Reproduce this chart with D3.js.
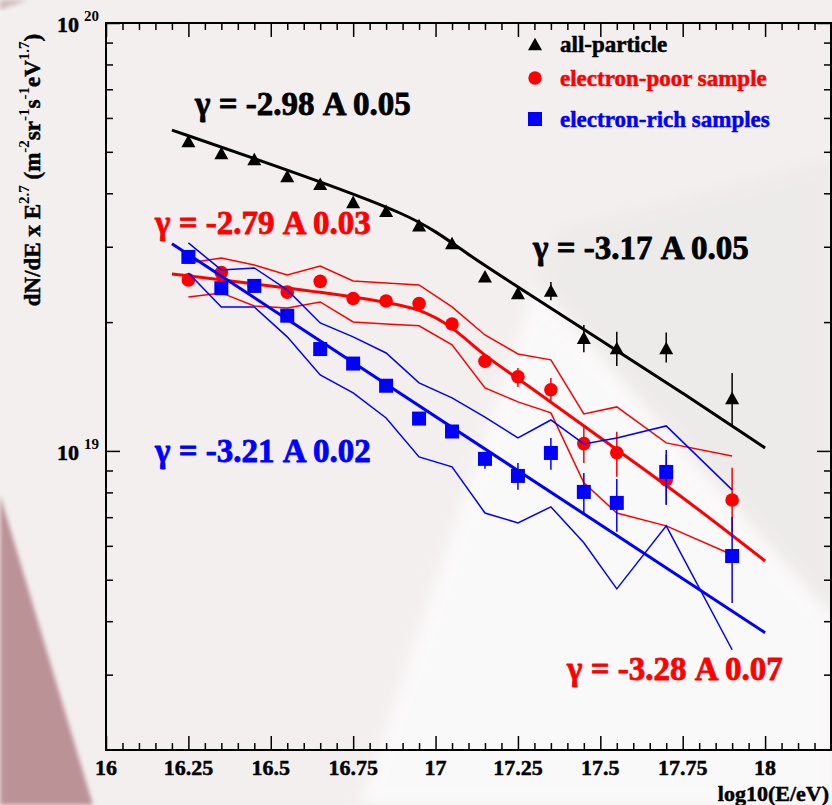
<!DOCTYPE html>
<html lang="en">
<head>
<meta charset="UTF-8">
<title>All-particle, electron-poor and electron-rich spectra</title>
<script src="https://d3js.org/d3.v7.min.js"></script>
<style>
  html, body { margin: 0; padding: 0; background: #f3efef; }
  svg { display: block; }
  text { font-family: "Liberation Serif", "Times New Roman", serif; font-weight: bold; stroke-width: 0.5; stroke-linejoin: round; }
</style>
</head>
<body>
<div id="chart"></div>
<script>
// log10(E/eV) of the bins
const energy = [16.25, 16.35, 16.45, 16.55, 16.65, 16.75, 16.85, 16.95, 17.05, 17.15, 17.25, 17.35, 17.45, 17.55, 17.7, 17.9];

// dN/dE x E^2.7, in units of 1e19 m^-2 sr^-1 s^-1 eV^1.7
const allParticle   = [5.30, 4.97, 4.81, 4.39, 4.21, 3.82, 3.64, 3.37, 3.06, 2.56, 2.34, 2.37, 1.84, 1.74, 1.74, 1.33];
const allParticleLo = [null, null, null, null, null, null, null, null, null, null, null, 2.25, 1.70, 1.58, 1.61, 1.14];
const allParticleHi = [null, null, null, null, null, null, null, null, null, null, null, 2.48, 1.97, 1.90, 1.89, 1.52];

const electronPoor   = [2.51, 2.61, 2.43, 2.35, 2.49, 2.27, 2.24, 2.21, 1.98, 1.62, 1.49, 1.39, 1.04, 0.99, 0.856, 0.768];
const electronPoorLo = [null, null, null, null, null, null, null, null, null, 1.563, 1.411, 1.294, 0.937, 0.870, 0.748, 0.647];
const electronPoorHi = [null, null, null, null, null, null, null, null, null, 1.676, 1.563, 1.481, 1.138, 1.108, 0.979, 0.913];
const electronPoorBandHi = [2.750, 2.824, 2.720, 2.578, 2.705, 2.496, 2.469, 2.443, 2.170, 1.866, 1.685, 1.632, 1.220, 1.267, 1.044, 0.973];
const electronPoorBandLo = [2.290, 2.340, 2.182, 2.159, 2.229, 2.002, 1.980, 1.960, 1.769, 1.404, 1.302, 1.227, 0.842, 0.716, 0.668, 0.572];

const electronRich   = [2.84, 2.40, 2.43, 2.07, 1.73, 1.60, 1.42, 1.19, 1.11, 0.958, 0.874, 0.989, 0.802, 0.756, 0.893, 0.568];
const electronRichLo = [null, null, null, null, null, null, null, null, 1.072, 0.908, 0.811, 0.903, 0.716, 0.647, 0.748, 0.441];
const electronRichHi = [null, null, null, null, null, null, null, null, 1.138, 0.989, 0.937, 1.072, 0.888, 0.860, 1.005, 0.701];
const electronRichBandHi = [3.062, 2.648, 2.677, 2.378, 1.991, 1.847, 1.694, 1.442, 1.330, 1.200, 1.072, 1.181, 1.038, 1.072, 1.144, 0.811];
const electronRichBandLo = [2.606, 2.170, 2.170, 1.847, 1.505, 1.366, 1.194, 0.968, 0.918, 0.716, 0.679, 0.740, 0.610, 0.476, 0.668, 0.343];

// fitted power laws
const fitAllE  = [16.2, 16.5, 16.75, 16.9, 17.0, 17.1, 17.25, 17.5, 17.75, 18.0];
const fitAllV  = [5.62, 4.68, 3.99, 3.59, 3.27, 2.87, 2.416, 1.817, 1.366, 1.016];
const fitPoorE = [16.2, 16.45, 16.65, 16.85, 16.95, 17.05, 17.15, 17.25, 17.5, 17.75, 18.0];
const fitPoorV = [2.592, 2.456, 2.352, 2.229, 2.15, 1.96, 1.66, 1.481, 1.072, 0.781, 0.553];
const fitRichE = [16.2, 18.0];
const fitRichV = [3.05, 0.376];

const xTicks = [16, 16.25, 16.5, 16.75, 17, 17.25, 17.5, 17.75, 18];
const xTickLabels = ["16", "16.25", "16.5", "16.75", "17", "17.25", "17.5", "17.75", "18"];
const yTicks = [1, 10];
const yTickExp = ["19", "20"];

const legendLabels = ["all-particle", "electron-poor sample", "electron-rich samples"];
const slopeLabels = ["γ = -2.98 A 0.05", "γ = -3.17 A 0.05", "γ = -2.79 A 0.03", "γ = -3.21 A 0.02", "γ = -3.28 A 0.07"];

const W = 832, H = 805;
const pLeft = 106, pRight = 831, pTop = 23, pBottom = 750;

const svg = d3.select("#chart").append("svg")
    .attr("width", W)
    .attr("height", H);

// background decoration
const defs = svg.append("defs");
defs.append("filter").attr("id", "soft")
    .append("feGaussianBlur").attr("stdDeviation", 2);
defs.append("filter").attr("id", "softer")
    .attr("x", "-20%").attr("y", "-20%").attr("width", "140%").attr("height", "140%")
    .append("feGaussianBlur").attr("stdDeviation", 7);
svg.append("rect").attr("width", W).attr("height", H).attr("fill", "#f3efef");
svg.append("path")
    .attr("d", "M560,230 L832,160 L832,617 L536,286 Z")
    .attr("fill", "#e9e6e6").attr("opacity", 0.5)
    .attr("filter", "url(#softer)");
svg.append("path")
    .attr("d", "M536,286 L832,617 L832,805 L360,805 Z")
    .attr("fill", "#ffffff").attr("opacity", 0.65)
    .attr("filter", "url(#softer)");
svg.append("path")
    .attr("d", "M0,495 L93,805 L0,805 Z")
    .attr("fill", "#bb9296")
    .attr("filter", "url(#soft)");
svg.append("path")
    .attr("d", "M0,0 L28,0 L0,10 Z")
    .attr("fill", "#d2bcbd")
    .attr("filter", "url(#soft)");

const x = d3.scaleLinear().domain([16, 18.2]).range([pLeft, pRight]);
const y = d3.scaleLog().domain([0.2, 10]).range([pBottom, pTop]);

const xMinor = d3.range(0, 45).map(i => +(16 + i * 0.05).toFixed(2)).filter(v => !xTicks.includes(v) && v > 16);
const yMinor = [0.3, 0.4, 0.5, 0.6, 0.7, 0.8, 0.9, 2, 3, 4, 5, 6, 7, 8, 9];

function ticks(axis, translate, values, size) {
    const g = svg.append("g")
        .attr("transform", translate)
        .call(axis.tickValues(values).tickSize(-size).tickFormat(""));
    g.select(".domain").remove();
    g.selectAll("line").attr("stroke", "#000").attr("stroke-width", 1.5);
}
ticks(d3.axisBottom(x), `translate(0,${pBottom})`, xMinor, 7);
ticks(d3.axisBottom(x), `translate(0,${pBottom})`, xTicks, 14);
ticks(d3.axisTop(x), `translate(0,${pTop})`, xMinor, 7);
ticks(d3.axisTop(x), `translate(0,${pTop})`, xTicks, 14);
ticks(d3.axisLeft(y), `translate(${pLeft},0)`, yMinor, 7);
ticks(d3.axisLeft(y), `translate(${pLeft},0)`, yTicks, 14);
ticks(d3.axisRight(y), `translate(${pRight},0)`, yMinor, 7);
ticks(d3.axisRight(y), `translate(${pRight},0)`, yTicks, 14);

svg.append("rect")
    .attr("x", pLeft).attr("y", pTop)
    .attr("width", pRight - pLeft).attr("height", pBottom - pTop)
    .attr("fill", "none").attr("stroke", "#000").attr("stroke-width", 2);

// tick labels
svg.append("g").selectAll("text")
    .data(xTicks)
    .join("text")
    .attr("x", d => x(d))
    .attr("y", pBottom + 25)
    .attr("text-anchor", "middle")
    .attr("font-size", 22).attr("stroke", "#000")
    .text((d, i) => xTickLabels[i]);

yTicks.forEach((v, i) => {
    svg.append("text")
        .attr("x", 79).attr("y", y(v) + 9)
        .attr("text-anchor", "end").attr("font-size", 22).attr("stroke", "#000")
        .text("10");
    svg.append("text")
        .attr("x", 84).attr("y", y(v) - 2)
        .attr("font-size", 15)
        .text(yTickExp[i]);
});

svg.append("text")
    .attr("x", 829).attr("y", 801)
    .attr("text-anchor", "end").attr("font-size", 22).attr("stroke", "#000")
    .text("log10(E/eV)");

// y title with superscripts
const yTitle = svg.append("text")
    .attr("transform", "translate(40,170) rotate(-90)")
    .attr("text-anchor", "middle")
    .attr("font-size", 23).attr("stroke", "#000");
const titleParts = [["dN/dE x E", 0], ["2.7", 1], [" (m", 0], ["-2", 1], ["sr", 0], ["-1", 1], ["s", 0], ["-1", 1], ["eV", 0], ["1.7", 1], [")", 0]];
let raised = false;
titleParts.forEach(([t, sup]) => {
    const ts = yTitle.append("tspan").text(t);
    if (sup && !raised) ts.attr("dy", -11);
    if (!sup && raised) ts.attr("dy", 11);
    if (sup) ts.attr("font-size", 15).attr("stroke", "none");
    raised = !!sup;
});

// series drawing
const triangle = "M0,-6.3 L7,6.3 L-7,6.3 Z";
const line = d3.line().x(d => x(d[0])).y(d => y(d[1]));
const smooth = d3.line().x(d => x(d[0])).y(d => y(d[1])).curve(d3.curveBasis);

function series(color, values, lo, hi, bandHi, bandLo, fitE, fitV, marker) {
    const g = svg.append("g");
    g.append("path")
        .datum(fitE.map((e, i) => [e, fitV[i]]))
        .attr("d", smooth)
        .attr("fill", "none").attr("stroke", color).attr("stroke-width", 3);
    [bandHi, bandLo].forEach(b => {
        if (!b) return;
        g.append("path")
            .datum(energy.map((e, i) => [e, b[i]]))
            .attr("d", line)
            .attr("fill", "none").attr("stroke", color).attr("stroke-width", 1.5);
    });
    g.selectAll(".err")
        .data(energy.map((e, i) => [e, lo[i], hi[i]]).filter(d => d[1] != null))
        .join("line")
        .attr("x1", d => x(d[0])).attr("x2", d => x(d[0]))
        .attr("y1", d => y(d[1])).attr("y2", d => y(d[2]))
        .attr("stroke", color).attr("stroke-width", 1.5);
    const pts = energy.map((e, i) => [e, values[i]]);
    if (marker === "triangle") {
        g.selectAll(".m").data(pts).join("path")
            .attr("d", triangle)
            .attr("transform", d => `translate(${x(d[0])},${y(d[1])})`)
            .attr("fill", color);
    } else if (marker === "circle") {
        g.selectAll(".m").data(pts).join("circle")
            .attr("cx", d => x(d[0])).attr("cy", d => y(d[1]))
            .attr("r", 6.8).attr("fill", color);
    } else {
        g.selectAll(".m").data(pts).join("rect")
            .attr("x", d => x(d[0]) - 7).attr("y", d => y(d[1]) - 7)
            .attr("width", 14).attr("height", 14).attr("fill", color);
    }
}

series("#000000", allParticle, allParticleLo, allParticleHi, null, null, fitAllE, fitAllV, "triangle");
series("#ff0000", electronPoor, electronPoorLo, electronPoorHi, electronPoorBandHi, electronPoorBandLo, fitPoorE, fitPoorV, "circle");
series("#0000ff", electronRich, electronRichLo, electronRichHi, electronRichBandHi, electronRichBandLo, fitRichE, fitRichV, "square");

// legend
const legendColors = ["#000000", "#ff0000", "#0000ff"];
const legendY = [44, 78, 119];
legendLabels.forEach((t, i) => {
    if (i === 0) svg.append("path").attr("d", triangle).attr("transform", `translate(535,${legendY[i]})`).attr("fill", legendColors[i]);
    if (i === 1) svg.append("circle").attr("cx", 535).attr("cy", legendY[i]).attr("r", 6.7).attr("fill", legendColors[i]);
    if (i === 2) svg.append("rect").attr("x", 528).attr("y", legendY[i] - 7).attr("width", 14).attr("height", 14).attr("fill", legendColors[i]);
    svg.append("text")
        .attr("x", 560).attr("y", legendY[i] + 8)
        .attr("font-size", 23).attr("fill", legendColors[i]).attr("stroke", legendColors[i])
        .text(t);
});

// slope annotations
const slopePos = [[195, 115, "#000000"], [533, 259, "#000000"], [155, 234, "#ff0000"], [155, 462, "#0000ff"], [567, 680, "#ff0000"]];
slopeLabels.forEach((t, i) => {
    svg.append("text")
        .attr("x", slopePos[i][0]).attr("y", slopePos[i][1])
        .attr("font-size", 33).attr("fill", slopePos[i][2]).attr("stroke", slopePos[i][2])
        .style("stroke-width", 0.8)
        .text(t);
});
</script>
</body>
</html>
